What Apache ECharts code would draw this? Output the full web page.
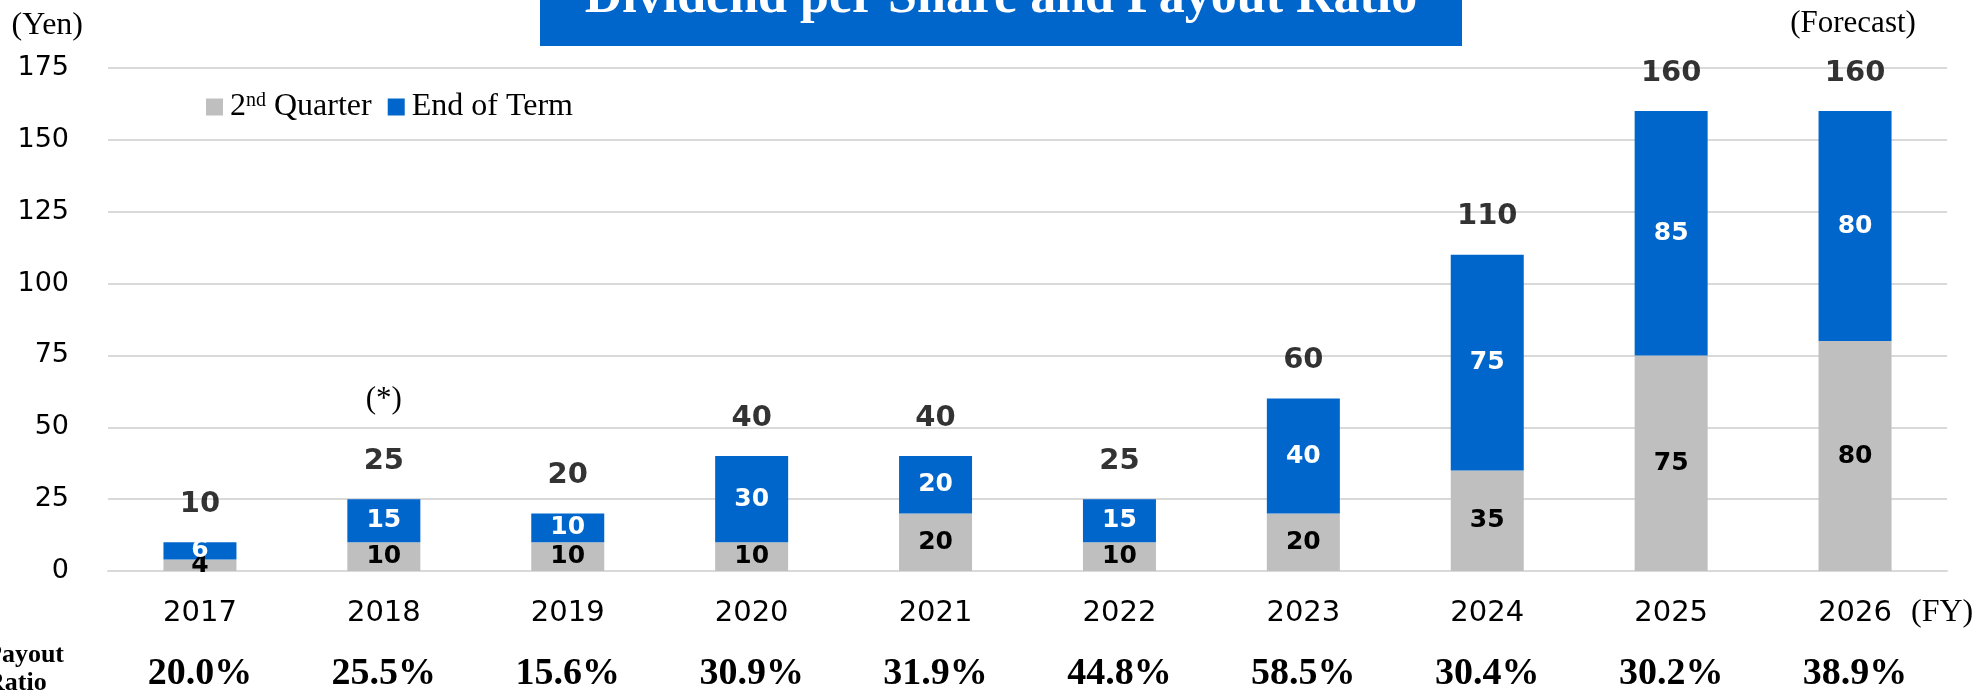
<!DOCTYPE html>
<html>
<head>
    <meta charset="utf-8">
    <title>Dividend per Share and Payout Ratio</title>
    <script src="https://cdn.jsdelivr.net/npm/echarts@6/dist/echarts.min.js"></script>
    <style>
        html, body { margin: 0; padding: 0; background: #fff; }
        #main { width: 1985px; height: 693px; }
    </style>
</head>
<body>
<div id="main"></div>
<script>
    // 数据
    var years = ['2017', '2018', '2019', '2020', '2021', '2022', '2023', '2024', '2025', '2026'];
    var secondQuarter = [4, 10, 10, 10, 20, 10, 20, 35, 75, 80];
    var endOfTerm = [6, 15, 10, 30, 20, 15, 40, 75, 85, 80];
    var totals = [10, 25, 20, 40, 40, 25, 60, 110, 160, 160];
    var payoutRatio = ['20.0%', '25.5%', '15.6%', '30.9%', '31.9%', '44.8%', '58.5%', '30.4%', '30.2%', '38.9%'];

    var BLUE = '#0066CC';
    var GRAY = '#BFBFBF';
    var SANS = '"DejaVu Sans", Verdana, sans-serif';
    var SERIF = '"Liberation Serif", "Times New Roman", serif';

    var innerLabel = function (color) {
        return {
            show: true,
            position: 'inside',
            color: color,
            fontFamily: SANS,
            fontWeight: 'bold',
            fontSize: 25
        };
    };

    var option = {
        animation: false,
        backgroundColor: '#fff',
        grid: { left: 108, right: 38, top: 68, bottom: 122 },
        legend: {
            data: ['2nd Quarter', 'End of Term'],
            left: 206,
            top: 91,
            padding: 0,
            icon: 'rect',
            itemWidth: 17,
            itemHeight: 17,
            itemGap: 16,
            formatter: function (name) {
                return name === '2nd Quarter' ? '2{sup|nd} Quarter' : name;
            },
            textStyle: {
                fontFamily: SERIF,
                fontSize: 32,
                color: '#000',
                padding: [0, 0, 0, 2],
                rich: {
                    sup: { fontFamily: SERIF, fontSize: 20, color: '#000', verticalAlign: 'top' }
                }
            }
        },
        xAxis: [
            {
                type: 'category',
                data: years,
                position: 'bottom',
                name: '(FY)',
                nameLocation: 'end',
                nameGap: -36,
                nameTextStyle: {
                    fontFamily: SERIF, fontSize: 32, color: '#000',
                    align: 'left', verticalAlign: 'top', padding: [26, 0, 0, 0]
                },
                axisLine: { lineStyle: { color: '#D9D9D9', width: 2 } },
                axisTick: { show: false },
                axisLabel: { fontFamily: SANS, fontSize: 29, color: '#000', margin: 28 }
            },
            {
                type: 'category',
                data: payoutRatio,
                position: 'bottom',
                offset: 0,
                axisLine: { show: false },
                axisTick: { show: false },
                axisLabel: {
                    fontFamily: SERIF, fontWeight: 'bold', fontSize: 38, color: '#000', margin: 84
                }
            }
        ],
        yAxis: {
            type: 'value',
            min: 0,
            max: 175,
            interval: 25,
            name: '(Yen)',
            nameLocation: 'end',
            nameGap: 26,
            nameTextStyle: {
                fontFamily: SERIF, fontSize: 32, color: '#000',
                align: 'right', verticalAlign: 'bottom', padding: [0, 25, 0, 0]
            },
            axisLine: { show: false },
            axisTick: { show: false },
            axisLabel: { fontFamily: SANS, fontSize: 27, color: '#000', margin: 39 },
            splitLine: { lineStyle: { color: '#D9D9D9', width: 2 } }
        },
        series: [
            {
                name: '2nd Quarter',
                type: 'bar',
                stack: 'dps',
                barWidth: 73,
                itemStyle: { color: GRAY },
                label: innerLabel('#000'),
                data: secondQuarter
            },
            {
                name: 'End of Term',
                type: 'bar',
                stack: 'dps',
                barWidth: 73,
                itemStyle: { color: BLUE },
                label: innerLabel('#fff'),
                data: endOfTerm
            },
            {
                // 合计标签
                name: 'Total',
                type: 'scatter',
                symbolSize: 1,
                itemStyle: { color: 'transparent' },
                label: {
                    show: true,
                    position: 'top',
                    distance: 23,
                    color: '#000',
                    fontFamily: SANS,
                    fontWeight: 'bold',
                    fontSize: 29
                },
                markPoint: {
                    symbolSize: 1,
                    itemStyle: { color: 'transparent' },
                    label: { show: true, color: '#000', fontFamily: SERIF, fontSize: 31 },
                    data: [
                        { coord: ['2018', 25], label: { formatter: '(*)', offset: [0, -99] } },
                        { coord: ['2026', 160], label: { formatter: '(Forecast)', offset: [-2, -87] } }
                    ]
                },
                data: totals
            }
        ],
        graphic: [
            {
                type: 'rect',
                left: 540,
                top: -10,
                shape: { width: 922, height: 56 },
                style: { fill: BLUE },
                z: 10
            },
            {
                type: 'text',
                x: 1001,
                y: -1,
                z: 11,
                style: {
                    text: 'Dividend per Share and Payout Ratio',
                    fill: '#fff',
                    font: 'bold 52px ' + SERIF,
                    textAlign: 'center',
                    textVerticalAlign: 'middle'
                }
            },
            {
                type: 'text',
                x: -14,
                y: 641,
                style: {
                    text: 'Payout\nRatio',
                    fill: '#000',
                    font: 'bold 26px ' + SERIF,
                    lineHeight: 28,
                    textAlign: 'left',
                    textVerticalAlign: 'top'
                }
            }
        ]
    };

    var myChart = echarts.init(document.getElementById('main'));
    myChart.setOption(option);
</script>
</body>
</html>
